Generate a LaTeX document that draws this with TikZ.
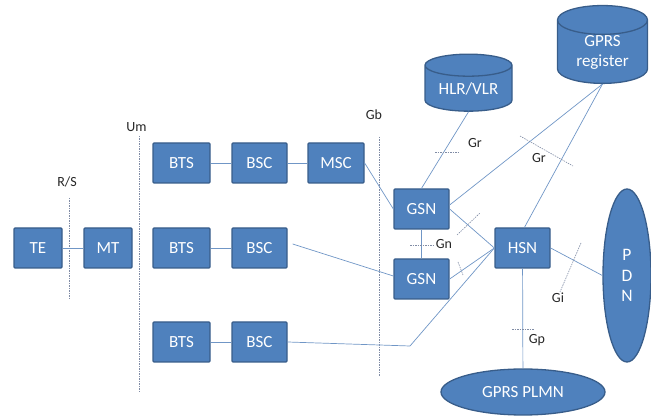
\documentclass[tikz,border=0pt]{standalone}
\usepackage{fontspec}
\setmainfont{Carlito}
\usetikzlibrary{shapes.geometric}
\definecolor{boxblue}{RGB}{79,129,189}
\definecolor{edgeblue}{RGB}{56,93,138}
\definecolor{lineblue}{RGB}{112,150,198}
\definecolor{tickgray}{RGB}{128,140,165}

\begin{document}
\begin{tikzpicture}[x=1pt,y=-1pt,
	box/.style={draw=edgeblue,fill=boxblue,line width=1.3pt,rounded corners=1pt,text=white,font=\fontsize{17}{19}\selectfont,minimum height=40pt,inner sep=0pt},
	store/.style={cylinder,shape border rotate=90,draw=edgeblue,fill=boxblue,line width=1.3pt,text=white,font=\fontsize{17}{20}\selectfont,align=center,inner sep=0pt},
	blob/.style={ellipse,draw=edgeblue,fill=boxblue,line width=1.3pt,text=white,font=\fontsize{17}{19}\selectfont,align=center,inner sep=0pt},
	link/.style={lineblue,line width=0.7pt},
	iface/.style={tickgray,line width=0.6pt,dash pattern=on 1.5pt off 1pt},
	lbl/.style={font=\fontsize{14}{16}\selectfont,text=black!85}]
	\useasboundingbox (0,0) rectangle (651,419);
	% interfaces
	\draw[iface] (69.5,198) -- (69.5,299);
	\draw[iface] (139,136) -- (139,393);
	\draw[iface] (379,137) -- (379,377);
	\node[lbl] (lrs) at (67,182) {R/S};
	\node[lbl] (lum) at (136.5,127) {Um};
	\node[lbl] (lgb) at (374,115) {Gb};
	% mobile side
	\node[box,minimum width=48pt] (te) at (38,248) {TE};
	\node[box,minimum width=48pt] (mt) at (108,248) {MT};
	% base stations
	\node[box,minimum width=57pt] (bts1) at (181.5,163) {BTS};
	\node[box,minimum width=55pt] (bsc1) at (259.5,163) {BSC};
	\node[box,minimum width=56pt] (msc) at (336,163) {MSC};
	\node[box,minimum width=57pt] (bts2) at (181.5,248) {BTS};
	\node[box,minimum width=55pt] (bsc2) at (259.5,248) {BSC};
	\node[box,minimum width=57pt] (bts3) at (181.5,342) {BTS};
	\node[box,minimum width=55pt] (bsc3) at (259.5,342) {BSC};
	% GPRS core
	\node[box,minimum width=55pt] (gsn1) at (421.5,209) {GSN};
	\node[box,minimum width=55pt] (gsn2) at (421.5,279) {GSN};
	\node[box,minimum width=55pt] (hsn) at (522.5,248) {HSN};
	\node[store,minimum width=87pt,minimum height=57pt,aspect=0.37] (hlr) at (468.5,88.5) {HLR/VLR};
	\node[store,minimum width=90pt,minimum height=76pt,aspect=0.55] (reg) at (602.5,52) {GPRS\\register};
	\node[blob,minimum width=48pt,minimum height=173pt,font=\fontsize{17.5}{20.5}\selectfont] (pdn) at (627,275.5) {P\\D\\N};
	\node[blob,minimum width=164pt,minimum height=46pt] (plmn) at (523,392) {GPRS PLMN};
	% connections
	\draw[link] (te) -- (mt);
	\draw[link] (bts1) -- (bsc1);
	\draw[link] (bsc1) -- (msc);
	\draw[link] (bts2) -- (bsc2);
	\draw[link] (bts3) -- (bsc3);
	\draw[link] (msc.east) -- (gsn1.west);
	\draw[link] ([xshift=5pt,yshift=4pt]bsc2.east) -- ([yshift=3pt]gsn2.west);
	\coordinate (bend) at (410,346);
	\draw[link] (bsc3.east) -- (bend) -- (hsn.west);
	\draw[link] (gsn1.east) -- (hsn.west);
	\draw[link] (gsn2.east) -- (hsn.west);
	\draw[link] (gsn1) -- (gsn2);
	\draw[link] (gsn1.north) -- (hlr.south);
	\draw[link] ([yshift=4pt]gsn1.east) -- (reg.south);
	\draw[link] ([xshift=2pt]hsn.north) -- (reg.south);
	\draw[link] (hsn.east) -- (pdn.west);
	\draw[link] (hsn) -- (plmn);
	% reference points
	\draw[iface] (435,152) -- (458,152);
	\node[lbl] (lgr1) at (475,143) {Gr};
	\draw[iface] (520,136) -- (573,166);
	\node[lbl] (lgr2) at (539,158) {Gr};
	\draw[iface] (410,245) -- (433,245);
	\node[lbl] (lgn) at (444,244) {Gn};
	\draw[iface] (457,235) -- (480,213);
	\draw[iface] (458,262) -- (463,275);
	\draw[iface] (581,243) -- (560,292);
	\node[lbl] (lgi) at (558,298) {Gi};
	\draw[iface] (512,329) -- (534,329);
	\node[lbl] (lgp) at (537,340) {Gp};
\end{tikzpicture}
\end{document}
